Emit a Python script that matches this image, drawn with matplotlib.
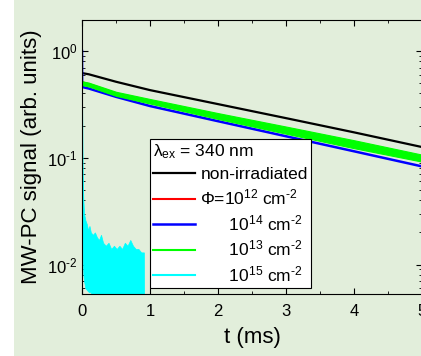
import matplotlib
matplotlib.use("Agg")
import matplotlib.pyplot as plt
from matplotlib.patches import Rectangle
from matplotlib.ticker import LogLocator, MultipleLocator, NullFormatter, FuncFormatter
import numpy as np

plt.rcParams["font.family"] = ["Liberation Sans", "DejaVu Sans"]
plt.rcParams["mathtext.fontset"] = "custom"
plt.rcParams["mathtext.rm"] = "Liberation Sans"
plt.rcParams["mathtext.it"] = "Liberation Sans:italic"

# ---- data ----
t_black = [0, 0.1, 0.5, 1, 2, 3, 4, 5]
black = [0.621, 0.605, 0.515, 0.43, 0.318, 0.235, 0.173, 0.126]

t_red = [0, 0.1, 0.5, 1, 2, 3, 4, 5]
red = [0.51, 0.49, 0.4, 0.338, 0.246, 0.181, 0.134, 0.099]

t_blue = [0, 0.002, 0.1, 0.5, 1, 2, 3, 4, 5]
blue = [1.0, 0.46, 0.445, 0.372, 0.305, 0.22, 0.159, 0.115, 0.083]

t_green = [0, 0.1, 0.5, 1, 2, 3, 4, 5]
green_hi = [0.52, 0.505, 0.415, 0.355, 0.262, 0.196, 0.146, 0.107]
green_lo = [0.48, 0.465, 0.38, 0.322, 0.231, 0.168, 0.123, 0.092]

t_cyan = [0, 0.005, 0.01, 0.02, 0.03, 0.05, 0.07, 0.09, 0.11, 0.13, 0.16,
          0.19, 0.22, 0.25, 0.28, 0.31, 0.35, 0.39, 0.43, 0.47, 0.51, 0.55,
          0.59, 0.63, 0.67, 0.71, 0.75, 0.79, 0.83, 0.87, 0.91, 0.92]
cyan_hi = [0.45, 0.2, 0.07, 0.04, 0.03, 0.026, 0.024, 0.021, 0.023, 0.02,
           0.019, 0.02, 0.018, 0.017, 0.019, 0.016, 0.015, 0.016, 0.014,
           0.015, 0.014, 0.015, 0.014, 0.016, 0.015, 0.017, 0.015, 0.014,
           0.014, 0.013, 0.013, 0.001]
cyan_lo = [0.4, 0.03, 0.012, 0.008, 0.007, 0.006, 0.0058, 0.0056, 0.0055,
           0.0055, 0.004, 0.004, 0.004, 0.004, 0.004, 0.004, 0.004, 0.004,
           0.004, 0.004, 0.004, 0.004, 0.004, 0.004, 0.004, 0.004, 0.004,
           0.004, 0.004, 0.004, 0.004, 0.001]

labels = ["non-irradiated",
          "\u03a6=10$^{12}$ cm$^{\\text{-}2}$",
          "      10$^{14}$ cm$^{\\text{-}2}$",
          "      10$^{13}$ cm$^{\\text{-}2}$",
          "      10$^{15}$ cm$^{\\text{-}2}$"]


def log_label(v, pos):
    e = int(round(np.log10(v)))
    s = str(e).replace("-", "\\text{-}")
    return "$10^{%s}$" % s


# ---- figure ----
fig = plt.figure(figsize=(4.21, 3.56), dpi=100, facecolor="white")
fig.patches.append(Rectangle((14 / 421, 0), 1, 1, transform=fig.transFigure,
                             facecolor="#e2eedb", edgecolor="none", zorder=-10))
ax = fig.add_axes([82 / 421, 62 / 356, 340 / 421, 274 / 356])
ax.set_facecolor("none")

ax.plot(t_black, black, color="black", lw=1.6, label=labels[0], zorder=2)
ax.plot(t_red, red, color="red", lw=1.5, label=labels[1], zorder=2.1)
ax.plot(t_blue, blue, color="blue", lw=1.8, label=labels[2], zorder=2.2)
ax.fill_between(t_green, green_lo, green_hi, color="#00ff00", lw=0.8,
                edgecolor="#00ff00", zorder=2.3)
ax.plot([], [], color="#00ff00", lw=1.5, label=labels[3])
ax.fill_between(t_cyan, cyan_lo, cyan_hi, color="cyan", lw=0.5,
                edgecolor="cyan", zorder=2.4)
ax.plot([], [], color="cyan", lw=1.5, label=labels[4])

ax.set_yscale("log")
ax.set_xlim(0, 5)
ax.set_ylim(0.0053, 1.95)
ax.xaxis.set_major_locator(MultipleLocator(1))
ax.xaxis.set_minor_locator(MultipleLocator(0.5))
ax.yaxis.set_major_formatter(FuncFormatter(log_label))
ax.yaxis.set_minor_locator(LogLocator(subs=range(2, 10)))
ax.yaxis.set_minor_formatter(NullFormatter())
ax.tick_params(which="both", direction="in", top=True, right=True, labelsize=12)
ax.tick_params(which="major", length=4.5, width=0.8)
ax.tick_params(which="minor", length=2.5, width=0.6)
ax.tick_params(axis="x", pad=7)
ax.tick_params(axis="y", pad=3)
for s in ax.spines.values():
    s.set_linewidth(0.8)

ax.set_xlabel("t (ms)", fontsize=16, labelpad=6)
ax.set_ylabel("MW-PC signal (arb. units)", fontsize=16, labelpad=4)

leg = ax.legend(loc="lower left", bbox_to_anchor=(0.2, 0.022), borderaxespad=0,
                fontsize=12.5, title="\u03bb$_{\\rm ex}$ = 340 nm",
                title_fontsize=12.5, alignment="left", frameon=True,
                fancybox=False, handlelength=2.4, handletextpad=0.3,
                labelspacing=0.33, borderpad=0.2)
leg.set_zorder(5)
leg.get_frame().set_edgecolor("black")
leg.get_frame().set_linewidth(0.8)
leg.get_frame().set_alpha(1)

fig.savefig("out.png", dpi=100, facecolor=fig.get_facecolor())
